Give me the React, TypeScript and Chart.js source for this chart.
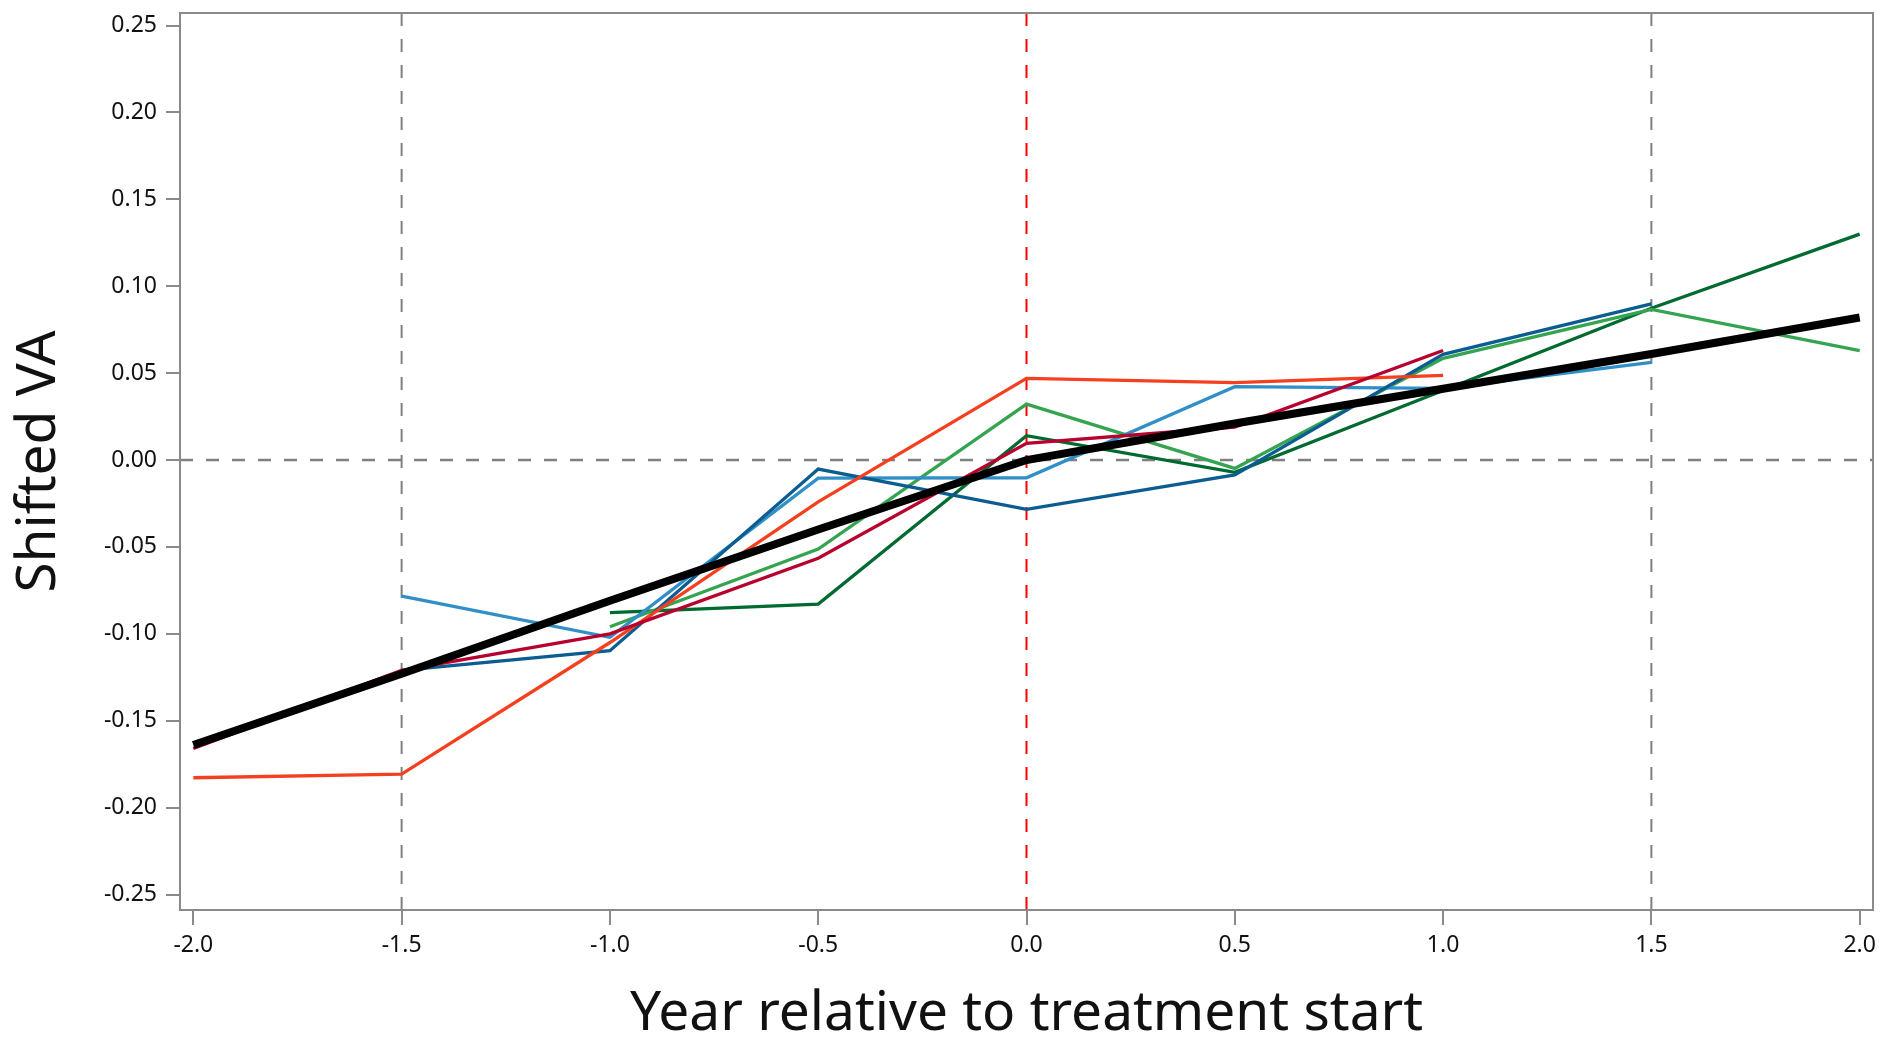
import React, { useEffect, useRef } from 'react';
import { Chart, registerables } from 'chart.js';

Chart.register(...registerables);

// ---- data ----
const xValues = [-2, -1.5, -1, -0.5, 0, 0.5, 1, 1.5, 2];
const meanVA = [-0.164, -0.123, -0.081, -0.040, 0.0, 0.021, 0.041, 0.061, 0.082];
const crimsonVA = [-0.166, -0.121, -0.100, -0.0565, 0.0096, 0.019, 0.063, null, null];
const darkBlueVA = [null, -0.121, -0.1097, -0.0052, -0.0284, -0.0086, 0.0608, 0.0898, null];
const lightBlueVA = [null, -0.0783, -0.102, -0.0104, -0.0102, 0.0422, 0.0412, 0.0562, null];
const orangeVA = [-0.1828, -0.1807, -0.105, -0.0241, 0.047, 0.0445, 0.0487, null, null];
const greenVA = [null, null, -0.0959, -0.0512, 0.0322, -0.0048, 0.0585, 0.0867, 0.0629];
const darkGreenVA = [null, null, -0.0878, -0.0829, 0.014, -0.0071, 0.040, 0.0873, 0.130];

const xTicks = [-2, -1.5, -1, -0.5, 0, 0.5, 1, 1.5, 2];
const yTicks = [-0.25, -0.2, -0.15, -0.1, -0.05, 0, 0.05, 0.1, 0.15, 0.2, 0.25];
const xRange = [-2.032, 2.032];
const yRange = [-0.2589, 0.2572];
const grayRefX = [-1.5, 1.5];
const redRefX = [0];
const grayRefY = [0];

const xTitle = 'Year relative to treatment start';
const yTitle = 'Shifted VA';

function toPoints(ys: (number | null)[]) {
  const pts: { x: number; y: number }[] = [];
  ys.forEach((y, i) => {
    if (y !== null) pts.push({ x: xValues[i], y });
  });
  return pts;
}

const frameColor = '#8a8a8a';

const framePlugin = {
  id: 'frame',
  afterDraw(chart: any) {
    const { ctx, chartArea } = chart;
    ctx.save();
    ctx.strokeStyle = frameColor;
    ctx.lineWidth = 2;
    ctx.strokeRect(chartArea.left, chartArea.top, chartArea.right - chartArea.left, chartArea.bottom - chartArea.top);
    ctx.restore();
  },
};

export default function App() {
  const ref = useRef<HTMLCanvasElement | null>(null);

  useEffect(() => {
    document.body.style.margin = '0';
    const canvas = ref.current;
    if (!canvas) return;

    const refLines: any[] = [];
    grayRefX.forEach((x) =>
      refLines.push({
        data: [{ x, y: yRange[0] }, { x, y: yRange[1] }],
        borderColor: '#808080', borderWidth: 2, borderDash: [13, 13], order: 100,
      })
    );
    redRefX.forEach((x) =>
      refLines.push({
        data: [{ x, y: yRange[0] }, { x, y: yRange[1] }],
        borderColor: '#ff0000', borderWidth: 2, borderDash: [13, 13], order: 100,
      })
    );
    grayRefY.forEach((y) =>
      refLines.push({
        data: [{ x: xRange[0], y }, { x: xRange[1], y }],
        borderColor: '#808080', borderWidth: 2.5, borderDash: [13, 13], order: 100,
      })
    );

    const series = [
      { data: toPoints(darkGreenVA), borderColor: '#006a30', borderWidth: 3.3, order: 10 },
      { data: toPoints(greenVA), borderColor: '#35a450', borderWidth: 3.3, order: 9 },
      { data: toPoints(lightBlueVA), borderColor: '#2f8fc6', borderWidth: 3.3, order: 8 },
      { data: toPoints(darkBlueVA), borderColor: '#0b5c90', borderWidth: 3.3, order: 7 },
      { data: toPoints(orangeVA), borderColor: '#f4401f', borderWidth: 3.3, order: 6 },
      { data: toPoints(crimsonVA), borderColor: '#b8002e', borderWidth: 3.3, order: 5 },
      { data: toPoints(meanVA), borderColor: '#000000', borderWidth: 8, order: 1 },
    ];

    const datasets = [...series, ...refLines].map((d) => ({
      ...d,
      pointRadius: 0,
      pointHoverRadius: 0,
      fill: false,
      tension: 0,
      spanGaps: false,
    }));

    const tickFont = { family: 'Noto Sans', size: 23 };
    const titleFont = { family: 'Noto Sans', size: 55, lineHeight: 0.85 };

    const chart = new Chart(canvas, {
      type: 'line',
      data: { datasets },
      plugins: [framePlugin],
      options: {
        animation: false,
        responsive: false,
        events: [],
        layout: { padding: { top: 13, right: 10, left: 0, bottom: 0 } },
        plugins: { legend: { display: false }, tooltip: { enabled: false } },
        scales: {
          x: {
            type: 'linear',
            min: xRange[0],
            max: xRange[1],
            afterBuildTicks: (s: any) => { s.ticks = xTicks.map((v) => ({ value: v })); },
            afterFit: (s: any) => { s.height = 128; s.paddingLeft = 0; s.paddingRight = 0; },
            ticks: {
              font: tickFont,
              color: '#111',
              padding: 7,
              maxRotation: 0,
              autoSkip: false,
              callback: (v: any) => Number(v).toFixed(1),
            },
            grid: { display: true, drawOnChartArea: false, drawTicks: true, tickLength: 15, color: frameColor, lineWidth: 2 },
            border: { display: false },
            title: { display: true, text: xTitle, font: titleFont, color: '#111', padding: { top: 0, bottom: 0 } },
          },
          y: {
            type: 'linear',
            min: yRange[0],
            max: yRange[1],
            afterBuildTicks: (s: any) => { s.ticks = yTicks.map((v) => ({ value: v })); },
            afterFit: (s: any) => { s.width = 180; s.paddingTop = 0; s.paddingBottom = 0; },
            ticks: {
              font: tickFont,
              color: '#111',
              padding: 9,
              autoSkip: false,
              callback: (v: any) => Number(v).toFixed(2),
            },
            grid: { display: true, drawOnChartArea: false, drawTicks: true, tickLength: 14, color: frameColor, lineWidth: 2 },
            border: { display: false },
            title: { display: true, text: yTitle, font: { family: 'Noto Sans', size: 55, lineHeight: 1 }, color: '#111', padding: { top: 12, bottom: 0 } },
          },
        },
      },
    });

    return () => chart.destroy();
  }, []);

  return (
    <div style={{ position: 'absolute', left: 0, top: 0, width: 1883, height: 1038, background: '#fff' }}>
      <canvas ref={ref} width={1883} height={1038} style={{ display: 'block' }} />
    </div>
  );
}
